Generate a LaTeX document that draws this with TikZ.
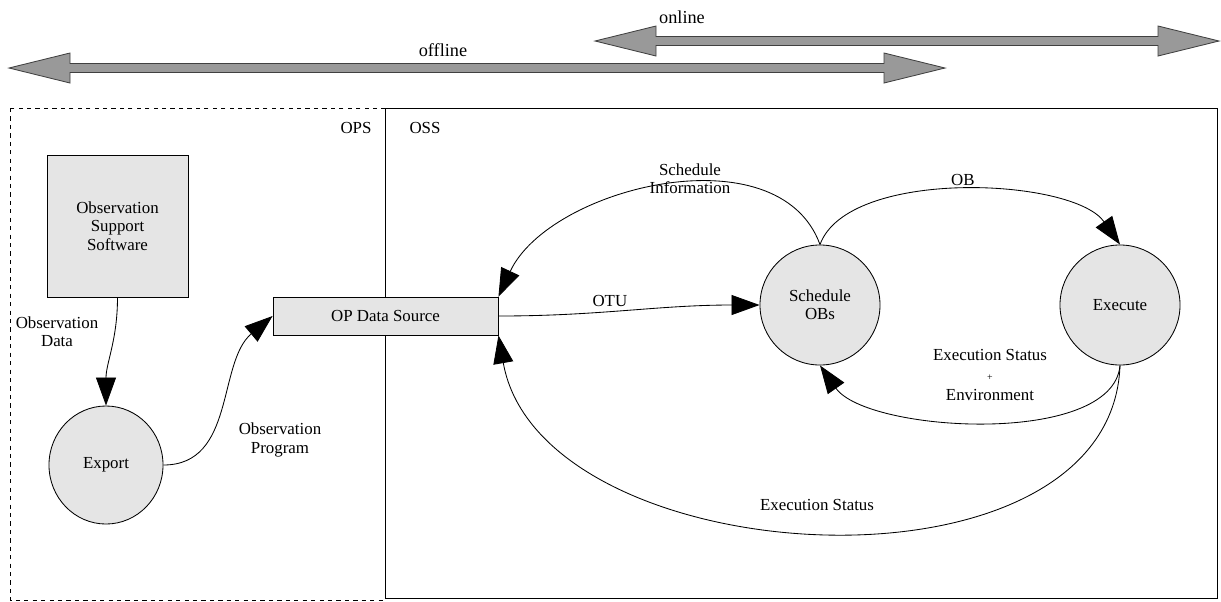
\documentclass[tikz,border=0pt]{standalone}
\usepackage{fontspec}
\setmainfont{Liberation Serif}
\usetikzlibrary{shapes,arrows.meta,positioning}

\begin{document}
\begin{tikzpicture}[
    x=0.025cm, y=-0.025cm,
    line width=0.6pt,
    font=\fontsize{12}{13}\selectfont,
    proc/.style={circle, draw, fill=gray!20, minimum size=3cm, align=center, inner sep=1pt},
    box/.style={rectangle, draw, fill=gray!20, align=center},
    flow/.style={-{Triangle[length=0.7cm, width=0.5cm]}},
    lbl/.style={align=center},
    span/.style={draw=black!75, fill=gray!80}
]
    \useasboundingbox (0,0) rectangle (1221,601);

    % Online / offline spans
    \foreach \a/\b/\y in {595/1219/41, 9/945/68} {
        \draw[span] (\a,\y) -- (\a+61,\y-15) -- (\a+61,\y-4.5) -- (\b-61,\y-4.5) -- (\b-61,\y-15)
            -- (\b,\y) -- (\b-61,\y+15) -- (\b-61,\y+4.5) -- (\a+61,\y+4.5) -- (\a+61,\y+15) -- cycle;
    }
    \node[font=\fontsize{13}{15}\selectfont] (online) at (682,17) {online};
    \node[font=\fontsize{13}{15}\selectfont] (offline) at (443,50) {offline};

    % Subsystems
    \draw[dashed, line width=0.5pt] (10,108) rectangle (385,600);
    \draw (385,108) rectangle (1217,598);
    \node (ops) at (356,128) {OPS};
    \node (oss) at (425,128) {OSS};

    % Processes and stores
    \node[box, minimum width=3.525cm, minimum height=3.55cm] (sos) at (117.5,226) {Observation\\Support\\Software};
    \node[ellipse, draw, fill=gray!20, minimum width=2.85cm, minimum height=2.95cm] (export) at (106,465) {Export};
    \node[box, minimum width=5.625cm, minimum height=0.95cm] (opds) at (385.5,316) {OP Data Source};
    \node[proc] (sched) at (820,305) {Schedule\\OBs};
    \node[proc] (exec) at (1120,305) {Execute};

    % Data flows
    \draw[flow] (sos.south) to[out=-90, in=90] (export.north);
    \node[lbl] (obsdata) at (57,332) {Observation\\Data};

    \draw[flow] (export.east) to[out=0, in=220] (opds.west);
    \node[lbl] (obsprog) at (280,440) {Observation\\Program};

    \draw[flow] (opds.east) to[out=0, in=180] node[above, pos=0.42] (otu) {OTU} (sched.west);

    \draw[flow] (sched.north) to[out=110, in=65, looseness=0.95] (opds.north east);
    \node[lbl] (schedinfo) at (690,179) {Schedule\\Information};

    \draw[flow] (sched.north) to[out=70, in=125, looseness=0.7] node[above] (ob) {OB} (exec.north);

    \draw[flow] (exec.south) to[out=-95, in=-55, looseness=0.7] (sched.south);
    \node[lbl] (statenv) at (990,375) {Execution Status\\[1pt]{\scriptsize +}\\[1pt]Environment};

    \draw[flow] (exec.south) to[out=-92, in=-80] (opds.south east);
    \node (status) at (817,505) {Execution Status};
\end{tikzpicture}
\end{document}
